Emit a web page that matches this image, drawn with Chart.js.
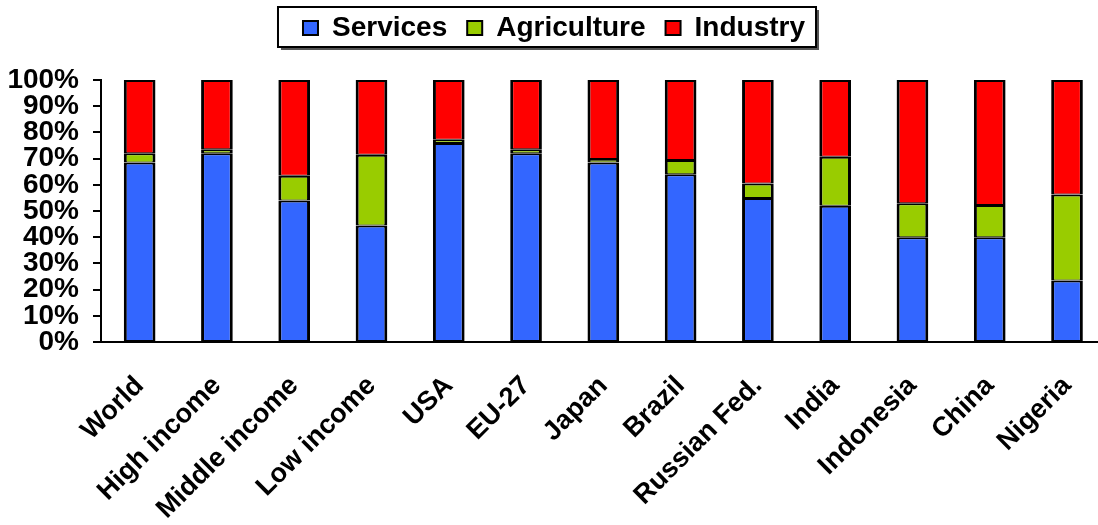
<!DOCTYPE html>
<html>
<head>
<meta charset="utf-8">
<script src="https://cdn.jsdelivr.net/npm/chart.js@4.4.1/dist/chart.umd.min.js"></script>
<style>
  html, body { margin: 0; padding: 0; background: #fff; overflow: hidden; }
  #wrap { position: relative; width: 1110px; height: 525px; }
</style>
</head>
<body>
<div id="wrap"><canvas id="c"></canvas></div>
<script>
const categories = ["World", "High income", "Middle income", "Low income", "USA", "EU-27", "Japan", "Brazil", "Russian Fed.", "India", "Indonesia", "China", "Nigeria"];
const services    = [68.5, 72, 54, 44.5, 76, 72, 68.5, 64, 55, 52, 40, 40, 23.5];
const agriculture = [3.5, 1.6, 9.5, 27, 1.2, 1.6, 1.3, 5.5, 5.5, 18.7, 13, 12.3, 32.8];
const industry    = [28, 26.4, 36.5, 28.5, 22.8, 26.4, 30.2, 30.5, 39.5, 29.3, 47, 47.7, 43.7];
const yTicks = [0, 10, 20, 30, 40, 50, 60, 70, 80, 90, 100];

const FONT = "'Liberation Sans', Arial, sans-serif";

const legendBox = {
  id: 'legendBox',
  afterInit(chart) {
    const lg = chart.legend;
    if (!lg || lg._patched) return;
    const f = lg.fit.bind(lg);
    lg.fit = function () { f(); if (this.isHorizontal()) this.height += 28; };
    lg._patched = true;
  },
  beforeDraw(chart) {
    const lg = chart.legend;
    if (!lg || !lg.legendHitBoxes || !lg.legendHitBoxes.length) return;
    const hb = lg.legendHitBoxes;
    let l = Infinity, r = -Infinity;
    hb.forEach(h => { l = Math.min(l, h.left); r = Math.max(r, h.left + h.width); });
    const x0 = l - 25, x1 = r + 11, y0 = 7, y1 = 47;
    const ctx = chart.ctx;
    ctx.save();
    ctx.fillStyle = '#555';
    ctx.fillRect(x0 + 3, y0 + 3, x1 - x0, y1 - y0);
    ctx.fillStyle = '#fff';
    ctx.fillRect(x0, y0, x1 - x0, y1 - y0);
    ctx.strokeStyle = '#000';
    ctx.lineWidth = 2;
    ctx.strokeRect(x0, y0, x1 - x0, y1 - y0);
    ctx.restore();
  }
};

new Chart(document.getElementById('c'), {
  type: 'bar',
  data: {
    labels: categories,
    datasets: [
      { label: 'Services', data: services, backgroundColor: '#3366FF' },
      { label: 'Agriculture', data: agriculture, backgroundColor: '#99CC00' },
      { label: 'Industry', data: industry, backgroundColor: '#FF0000' }
    ].map(d => Object.assign(d, {
      borderColor: '#000',
      borderWidth: { left: 3, right: 3, top: 2, bottom: 1 },
      borderSkipped: false,
      categoryPercentage: 1.0,
      barPercentage: 0.41
    }))
  },
  options: {
    responsive: true,
    maintainAspectRatio: false,
    animation: false,
    layout: { padding: { left: 0, right: 2, top: -6, bottom: 0 } },
    plugins: {
      tooltip: { enabled: false },
      legend: {
        position: 'top',
        labels: {
          font: { family: FONT, size: 28, weight: 'bold' },
          color: '#000',
          boxWidth: 15,
          boxHeight: 14,
          padding: 20,
          generateLabels(chart) {
            return chart.data.datasets.map((ds, i) => ({
              text: ds.label, fillStyle: ds.backgroundColor, strokeStyle: '#000', lineWidth: 2,
              hidden: false, datasetIndex: i, fontColor: '#000'
            }));
          }
        }
      }
    },
    scales: {
      x: {
        stacked: true,
        offset: true,
        afterFit(scale) { scale.height = 183; },
        grid: { display: false },
        border: { display: true, color: '#000', width: 2 },
        ticks: {
          autoSkip: false,
          maxRotation: 45, minRotation: 45,
          padding: 20,
          color: '#000',
          font: { family: FONT, size: 27, weight: 'bold' }
        }
      },
      y: {
        stacked: true,
        min: 0, max: 100,
        afterBuildTicks(scale) { scale.ticks = yTicks.map(v => ({ value: v })); },
        afterFit(scale) { scale.width = 101; },
        grid: { drawOnChartArea: false, drawTicks: true, tickLength: 8, color: '#000', lineWidth: 2 },
        border: { display: true, color: '#000', width: 2 },
        ticks: {
          autoSkip: false,
          padding: 14,
          color: '#000',
          font: { family: FONT, size: 28, weight: 'bold' },
          callback: v => v + '%'
        }
      }
    }
  },
  plugins: [legendBox]
});
</script>
</body>
</html>
